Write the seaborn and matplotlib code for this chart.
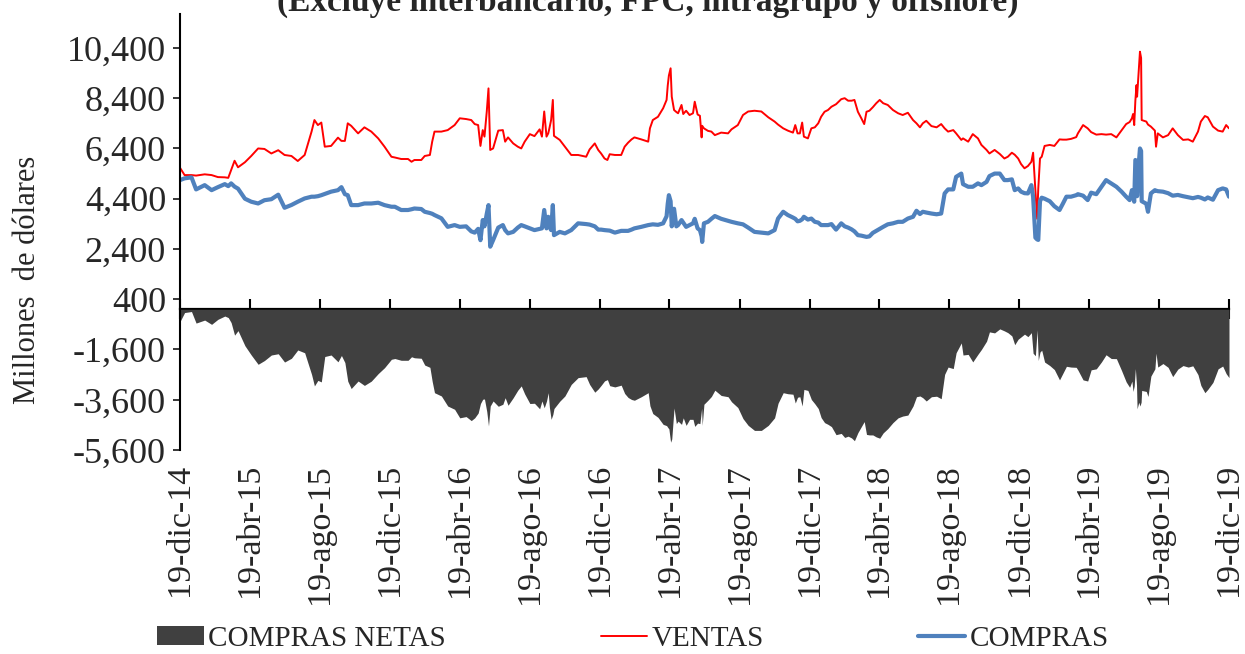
import numpy as np
import pandas as pd
import matplotlib
matplotlib.use("Agg")
import matplotlib.pyplot as plt
import matplotlib.dates as mdates
import seaborn as sns

# Días transcurridos desde el 19-dic-2014
dias = [
    0, 8, 20, 28, 43, 55, 66, 78, 84, 89, 95, 101, 113, 124, 136, 147, 159, 171,
    182, 194, 205, 217, 229, 234, 240, 246, 252, 263, 275, 281, 287, 292, 298,
    310, 321, 333, 345, 356, 368,
    374, 385, 397, 403, 408, 420, 426, 435, 439, 443, 455, 466, 478, 487, 498,
    507, 513, 519, 523, 527, 530, 534, 537, 540, 545, 554, 562, 566, 571, 580,
    588, 594, 600, 609, 617, 626, 630, 634, 638, 641, 643, 646, 649, 651, 661,
    670, 681, 693, 707, 713, 722, 728, 733,
    739, 744, 748, 757, 768, 774, 780, 786, 791, 803, 815, 818, 823, 832, 841,
    847, 849, 851, 854, 856, 860, 864, 867, 873, 876, 881, 887, 893, 896, 901,
    905, 908, 909, 912, 919, 925, 931, 942, 954, 960, 971, 980, 989, 1000,
    1012, 1024, 1035, 1041, 1050, 1058, 1067, 1071, 1075, 1079, 1083, 1086,
    1093, 1099,
    1105, 1111, 1116, 1122, 1128, 1134, 1142, 1151, 1157, 1163, 1169, 1174,
    1180, 1186, 1191, 1195, 1200, 1206, 1212, 1218, 1224, 1232, 1241, 1250,
    1258, 1267, 1276, 1282, 1288, 1293, 1299, 1308, 1317, 1325, 1331, 1337,
    1346, 1351, 1360, 1363, 1372, 1380, 1389, 1395, 1404, 1409, 1418, 1427,
    1435, 1441, 1448, 1453, 1459, 1464,
    1470, 1476, 1482, 1485, 1489, 1492, 1494, 1497, 1500, 1505, 1514, 1522,
    1531, 1537, 1543, 1551, 1560, 1563, 1572, 1580, 1586, 1595, 1604, 1612,
    1621, 1630, 1639, 1647, 1653, 1657, 1659, 1661, 1663, 1665, 1666, 1669,
    1671, 1673, 1674, 1682, 1685, 1690, 1697, 1699, 1702, 1711, 1720, 1728,
    1737, 1746, 1755, 1763, 1772, 1777, 1784, 1789, 1798, 1807, 1815, 1821,
    1826,
]

ventas = [
    5630, 5340, 5340, 5320, 5370, 5340, 5260, 5250, 5230, 5540, 5910, 5650, 5850,
    6100, 6400, 6380, 6200, 6330, 6140, 6100, 5900, 6140, 7070, 7530, 7330, 7430,
    6470, 6500, 6830, 6700, 6700, 7400, 7300, 7000, 7240, 7070, 6800, 6470, 6070,
    6040, 5980, 5980, 5870, 5940, 5940, 6100, 6140, 6670, 7070, 7070, 7130, 7330,
    7600, 7570, 7530, 7370, 7330, 6500, 7130, 6870, 7870, 8790, 6340, 6400, 7110,
    7130, 6670, 6840, 6600, 6470, 6400, 6670, 6970, 6890, 7160, 6870, 7870, 6870,
    7000, 7200, 7530, 8330, 6900, 6740, 6470, 6140, 6140, 6070, 6360, 6600, 6340,
    6200,
    6000, 5940, 6170, 6140, 6140, 6470, 6630, 6760, 6840, 6760, 6670, 7200, 7530,
    7660, 8000, 8330, 8900, 9300, 9590, 8460, 7930, 7850, 7800, 8130, 7770, 7900,
    7730, 7800, 8260, 7750, 7700, 6840, 7300, 7200, 7100, 7070, 6930, 7030, 7000,
    7160, 7330, 7730, 7870, 7900, 7870, 7640, 7470, 7350, 7200, 7110, 7030, 7330,
    7000, 7000, 7430, 6870, 6800, 7200,
    7240, 7400, 7660, 7860, 7930, 8060, 8160, 8360, 8400, 8300, 8300, 8330, 7860,
    7600, 7370, 7860, 7900, 8040, 8200, 8330, 8200, 8130, 7930, 7800, 7730, 7820,
    7530, 7400, 7240, 7400, 7500, 7290, 7240, 7370, 7200, 7070, 7130, 7000, 6740,
    6800, 6670, 6970, 6800, 6540, 6340, 6200, 6340, 6180, 6000, 6070, 6230, 6150,
    6000, 5780,
    5610, 5700, 5870, 6230, 4700, 3600, 4800, 6000, 6070, 6500, 6540, 6500, 6760,
    6750, 6750, 6780, 6850, 7000, 7330, 7200, 7050, 6950, 6970, 6950, 6970, 6840,
    7120, 7370, 7450, 7600, 7770, 7330, 8300, 8920, 8460, 9500, 10250, 10000,
    7530, 7470, 7350, 7270, 7110, 6470, 7000, 6840, 6930, 7200, 6930, 6740, 6760,
    6670, 7070, 7470, 7690, 7640, 7270, 7110, 7070, 7330, 7200,
]

compras = [
    5140, 5210, 5250, 4770, 4940, 4740, 4860, 4980, 4900, 5010, 4880, 4800, 4400,
    4280, 4210, 4340, 4380, 4560, 4040, 4150, 4280, 4410, 4480, 4480, 4500, 4540,
    4590, 4680, 4740, 4860, 4580, 4540, 4145, 4145, 4210, 4210, 4240, 4145, 4080,
    4080, 3950, 3950, 3980, 4010, 3990, 3880, 3830, 3800, 3750, 3620, 3280, 3350,
    3280, 3300, 3100, 3050, 3200, 2750, 3550, 3300, 3800, 4145, 2490, 2750, 3250,
    3350, 3150, 3020, 3080, 3250, 3350, 3300, 3220, 3150, 3200, 3220, 3950, 3220,
    3680, 3300, 3150, 4145, 2950, 3080, 3020, 3150, 3420, 3390, 3370, 3300, 3170,
    3170,
    3150, 3140, 3130, 3050, 3120, 3120, 3120, 3170, 3220, 3280, 3350, 3360, 3380,
    3360, 3420, 3700, 4200, 4540, 4300, 3300, 4000, 3300, 3350, 3550, 3450, 3280,
    3350, 3420, 3600, 3220, 3150, 2900, 2680, 3420, 3480, 3600, 3710, 3600, 3520,
    3480, 3420, 3380, 3250, 3080, 3050, 3020, 3150, 3610, 3880, 3750, 3650, 3600,
    3500, 3520, 3580, 3680, 3570, 3610,
    3480, 3450, 3350, 3350, 3350, 3390, 3170, 3420, 3300, 3250, 3180, 3100, 2950,
    2930, 2900, 2880, 2900, 3040, 3120, 3200, 3280, 3380, 3420, 3480, 3480, 3610,
    3680, 3920, 3790, 3880, 3850, 3810, 3780, 3810, 4610, 4770, 4770, 5270, 5400,
    4980, 4875, 4875, 5010, 4940, 5070, 5300, 5400, 5400, 5140, 5140, 5170, 4740,
    4810, 4680,
    4620, 4610, 4940, 4480, 2850, 2780, 2760, 4300, 4440, 4400, 4300, 4100, 3950,
    4210, 4480, 4480, 4540, 4580, 4520, 4345, 4640, 4580, 4875, 5140, 5010, 4875,
    4680, 4480, 4345, 4740, 4500, 4280, 5940, 5900, 4500, 5800, 6400, 6300,
    4300, 4200, 3880, 4610, 4740, 4720, 4700, 4680, 4620, 4520, 4550, 4500, 4460,
    4420, 4470, 4440, 4370, 4450, 4360, 4740, 4810, 4770, 4480,
]

meses = ["ene", "feb", "mar", "abr", "may", "jun",
         "jul", "ago", "sep", "oct", "nov", "dic"]
marcas_y = list(range(-5600, 10401, 2000))

inicio = pd.Timestamp("2014-12-19")
fechas = inicio + pd.to_timedelta(dias, unit="D")
df = pd.DataFrame({
    "x": mdates.date2num(fechas),
    "VENTAS": ventas,
    "COMPRAS": compras,
})
df["NETAS"] = df["COMPRAS"] - df["VENTAS"]

fechas_eje = pd.date_range("2014-12-19", "2019-12-19", freq=pd.DateOffset(months=4))
etiquetas_x = [f"{d.day}-{meses[d.month - 1]}-{d.year % 100:02d}" for d in fechas_eje]
pos_x = mdates.date2num(fechas_eje)

sns.set_style("white")
plt.rcParams["font.family"] = ["Liberation Serif", "DejaVu Serif"]

W, H = 1245, 654
fig = plt.figure(figsize=(W / 100, H / 100), dpi=100)
ax = fig.add_axes([180 / W, 204 / H, 1049 / W, 436 / H])

ymin, ymax = -5600, 11750
ax.fill_between(df["x"], df["NETAS"], 0, color="#404040",
                linewidth=0, label="COMPRAS NETAS")
sns.lineplot(data=df, x="x", y="VENTAS", ax=ax, color="#FF0000",
             linewidth=1.4, label="VENTAS", sort=False)
sns.lineplot(data=df, x="x", y="COMPRAS", ax=ax, color="#4F81BD",
             linewidth=3.0, label="COMPRAS", sort=False)

ax.set_xlim(df["x"].iloc[0], df["x"].iloc[-1])
ax.set_ylim(ymin, ymax)
ax.set_xlabel("")
ax.set_ylabel("")

for s in ("top", "right", "bottom"):
    ax.spines[s].set_visible(False)
ax.spines["left"].set_color("black")
ax.spines["left"].set_linewidth(1.5)

ax.set_yticks(marcas_y)
ax.set_yticklabels([f"{v:,}" for v in marcas_y])
ax.tick_params(axis="y", direction="out", length=5, width=1.3,
               labelsize=26, pad=5, left=True)

ax.set_xticks(pos_x)
ax.set_xticklabels(etiquetas_x, rotation=90, ha="center", va="top")
ax.tick_params(axis="x", length=0, labelsize=24.5, pad=10)

# eje horizontal en cero con marcas cruzadas
frac0 = (0 - ymin) / (ymax - ymin)
sec = ax.secondary_xaxis(frac0)
sec.set_xticks(pos_x)
sec.set_xticklabels([])
sec.tick_params(direction="inout", length=14, width=1.5, color="black")
for s in ("top", "bottom"):
    sec.spines[s].set_linewidth(1.6)
    sec.spines[s].set_color("black")

ax.get_legend().remove()
handles, labels = ax.get_legend_handles_labels()
orden = [labels.index(n) for n in ("COMPRAS NETAS", "VENTAS", "COMPRAS")]
fig.legend([handles[i] for i in orden], [labels[i] for i in orden],
           loc="center", bbox_to_anchor=(633 / W, 15 / H), ncol=3,
           frameon=False, fontsize=21, handlelength=1.6, handleheight=0.65,
           handletextpad=0.15, columnspacing=5.3, borderpad=0, borderaxespad=0)

fig.text(648 / W, 1 - 11 / H,
         "(Excluye interbancario, FPC, intragrupo y offshore)",
         ha="center", va="baseline", fontsize=24, fontweight="bold")
fig.text(28 / W, 1 - 280 / H, "Millones  de dólares", rotation=90,
         ha="center", va="center", fontsize=22)

fig.savefig("out.png", dpi=100)
